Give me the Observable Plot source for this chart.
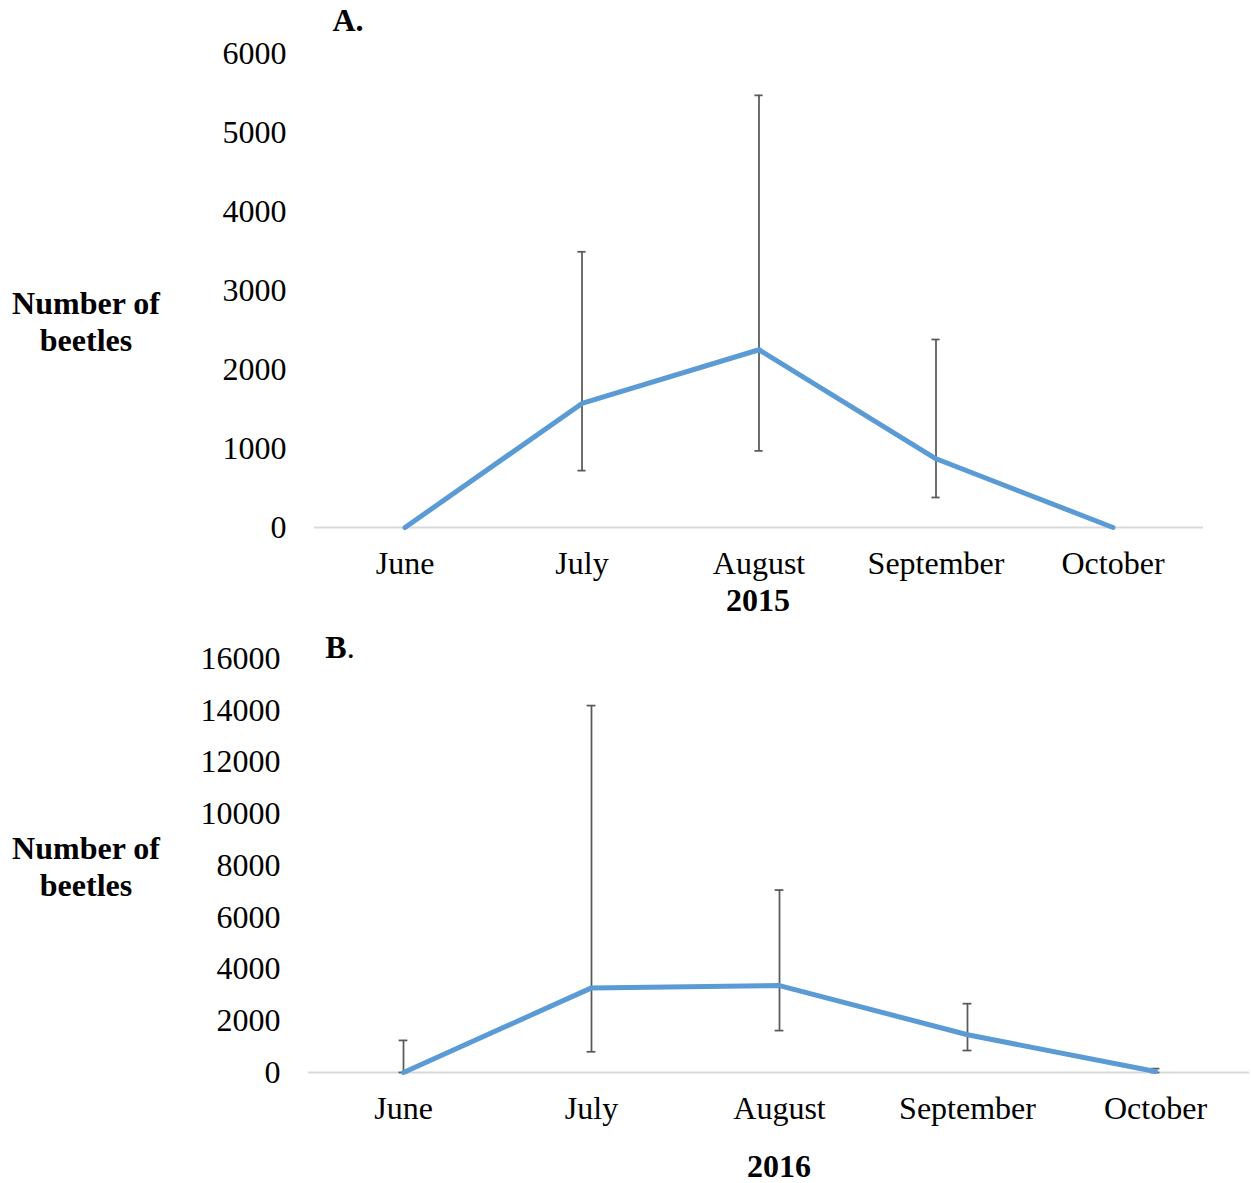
<!DOCTYPE html>
<html>
<head>
<meta charset="utf-8">
<script src="https://cdn.jsdelivr.net/npm/d3@7"></script>
<script src="https://cdn.jsdelivr.net/npm/@observablehq/plot@0.6"></script>
<style>
  html, body { margin: 0; padding: 0; background: #fff; }
  #wrap { position: relative; width: 1251px; height: 1183px; font-family: "Liberation Serif", "Times New Roman", serif; color: #000; }
  .lbl { position: absolute; font-size: 32px; line-height: 37px; white-space: nowrap; transform: translate(-50%, -50%); text-align: center; }
  .b { font-weight: bold; }
  .panel { position: absolute; left: 0; }
</style>
</head>
<body>
<div id="wrap">
  <div id="pa" class="panel" style="top:0"></div>
  <div id="pb" class="panel" style="top:620px"></div>
  <div class="lbl b" style="left:348px; top:20px;">A.</div>
  <div class="lbl b" style="left:86px; top:322px;">Number of<br>beetles</div>
  <div class="lbl b" style="left:758px; top:600px;">2015</div>
  <div class="lbl" style="left:340px; top:647px;"><b>B</b>.</div>
  <div class="lbl b" style="left:86px; top:867px;">Number of<br>beetles</div>
  <div class="lbl b" style="left:779px; top:1166px;">2016</div>
</div>
<script>
const months = ["June", "July", "August", "September", "October"];

const mean2015 = [0, 1570, 2250, 870, 0];
const low2015  = [null, 720, 970, 380, null];
const high2015 = [null, 3490, 5470, 2380, null];
const ticks2015 = [0, 1000, 2000, 3000, 4000, 5000, 6000];

const mean2016 = [0, 3270, 3360, 1460, 40];
const low2016  = [0, 800, 1620, 850, 0];
const high2016 = [1240, 14180, 7050, 2660, 150];
const ticks2016 = [0, 2000, 4000, 6000, 8000, 10000, 12000, 14000, 16000];

function rows(mean, low, high) {
  return months.map((m, i) => ({month: m, mean: mean[i], low: low[i], high: high[i]}));
}

function panel(data, ticks, opts) {
  const errs = data.filter(d => d.low != null && d.high != null);
  const bw = (opts.width - opts.marginLeft - opts.marginRight) / months.length;
  const capInset = (bw - 9) / 2;
  return Plot.plot({
    width: opts.width,
    height: opts.height,
    marginTop: opts.marginTop,
    marginBottom: opts.marginBottom,
    marginLeft: opts.marginLeft,
    marginRight: opts.marginRight,
    style: {fontFamily: "Liberation Serif, Times New Roman, serif", fontSize: "32px", color: "#000", background: "transparent"},
    x: {type: "band", domain: months, padding: 0, label: null},
    y: {domain: [ticks[0], ticks[ticks.length - 1]], label: null},
    marks: [
      Plot.ruleY([0], {stroke: "#d9d9d9", strokeWidth: 2}),
      Plot.axisY({ticks: ticks, tickSize: 0, tickPadding: 28, tickFormat: d => String(d), fontSize: 32, label: null}),
      Plot.axisX({tickSize: 0, tickPadding: 24, fontSize: 32, label: null}),
      Plot.ruleX(errs, {x: "month", y1: "low", y2: "high", stroke: "#595959", strokeWidth: 1.75}),
      Plot.tickY(errs, {x: "month", y: "low", stroke: "#595959", strokeWidth: 1.75, insetLeft: capInset, insetRight: capInset}),
      Plot.tickY(errs, {x: "month", y: "high", stroke: "#595959", strokeWidth: 1.75, insetLeft: capInset, insetRight: capInset}),
      Plot.line(data, {x: "month", y: "mean", stroke: "#5b9bd5", strokeWidth: 5, strokeLinejoin: "round", strokeLinecap: "round"})
    ]
  });
}

document.getElementById("pa").appendChild(panel(rows(mean2015, low2015, high2015), ticks2015,
  {width: 1251, height: 620, marginTop: 53, marginBottom: 93, marginLeft: 314, marginRight: 48}));
document.getElementById("pb").appendChild(panel(rows(mean2016, low2016, high2016), ticks2016,
  {width: 1251, height: 563, marginTop: 38, marginBottom: 111, marginLeft: 308, marginRight: 2}));
</script>
</body>
</html>
